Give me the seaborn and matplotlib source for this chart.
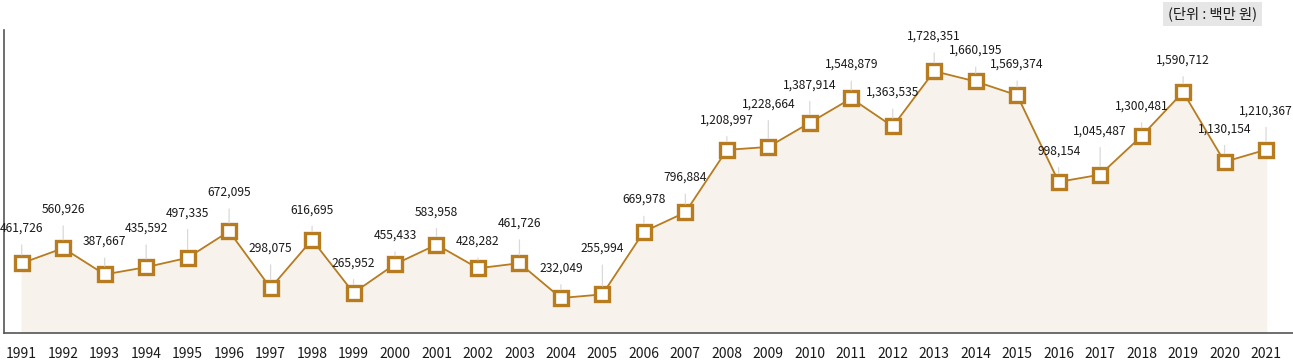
import matplotlib
matplotlib.use("Agg")
import matplotlib.pyplot as plt
import seaborn as sns
import pandas as pd

# data (unit: million won)
years = list(range(1991, 2022))
values = [461726, 560926, 387667, 435592, 497335, 672095, 298075, 616695, 265952, 455433,
          583958, 428282, 461726, 232049, 255994, 669978, 796884, 1208997, 1228664, 1387914,
          1548879, 1363535, 1728351, 1660195, 1569374, 998154, 1045487, 1300481, 1590712,
          1130154, 1210367]
unit_label = "(단위 : 백만 원)"

# how far each value label sits above its marker (pixels), as in the original
label_offsets = [35, 39, 33, 39, 45, 39, 40, 30, 30, 29, 33, 27, 40, 30, 46, 32, 35, 30, 43, 38,
                 34, 34, 35, 31, 31, 31, 44, 30, 32, 33, 39]

df = pd.DataFrame({"year": years, "value": values})

sns.set_theme(style="white")
plt.rcParams["font.family"] = ["Noto Sans CJK KR", "DejaVu Sans"]

line_color = "#b67c1f"
fill_color = "#f7f2eb"

fig = plt.figure(figsize=(12.93, 3.61), dpi=100)
ax = fig.add_axes([0.003, 0.077, 0.997, 0.84])

ax.fill_between(df["year"], df["value"], 0, color=fill_color, zorder=1)
sns.lineplot(data=df, x="year", y="value", ax=ax, color=line_color, linewidth=1.3,
             marker="s", markersize=9.5, markerfacecolor="white",
             markeredgecolor=line_color, markeredgewidth=2.4, zorder=3)

# value labels with thin leader lines
for x, y, off in zip(df["year"], df["value"], label_offsets):
    ax.annotate(f"{y:,}", xy=(x, y), xytext=(0, off * 0.72), textcoords="offset points",
                ha="center", va="center", fontsize=8.7, color="#1a1a1a",
                arrowprops=dict(arrowstyle="-", color="#d9d9d9", lw=0.9,
                                shrinkA=5, shrinkB=6), zorder=4)

ax.set_xlim(1990.57, 2021.65)
ax.set_ylim(0, 2000000)
ax.set_xticks(years)
ax.set_xticklabels([str(y) for y in years], fontsize=10, color="#1a1a1a")
ax.set_yticks([])
ax.set_xlabel("")
ax.set_ylabel("")
ax.tick_params(axis="x", length=0, pad=10)

for side in ["top", "right"]:
    ax.spines[side].set_visible(False)
for side in ["left", "bottom"]:
    ax.spines[side].set_color("#555555")
    ax.spines[side].set_linewidth(1.2)

fig.text(0.938, 0.961, unit_label, ha="center", va="center", fontsize=10.3, color="#1a1a1a",
         bbox=dict(boxstyle="square,pad=0.35", facecolor="#e6e6e6", edgecolor="none"))

fig.savefig("out.png", dpi=100)
